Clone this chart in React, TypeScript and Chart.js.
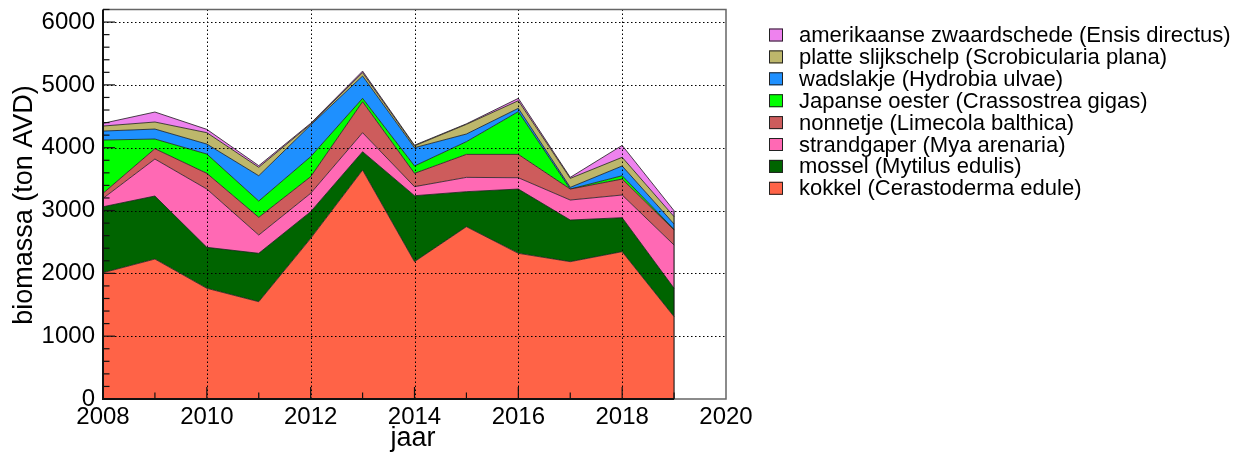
import React, { useEffect, useRef } from "react";
import { Chart, registerables } from "chart.js";

Chart.register(...registerables);

const FONT = '"Liberation Sans", Arial, Helvetica, sans-serif';

const years = [2008, 2009, 2010, 2011, 2012, 2013, 2014, 2015, 2016, 2017, 2018, 2019];

// biomass per species (ton AVD), bottom of stack first
const kokkel = [2010, 2228, 1762, 1549, 2557, 3645, 2186, 2743, 2319, 2186, 2345, 1310];
const mossel = [1050, 1003, 652, 770, 425, 291, 1050, 557, 1023, 663, 541, 452];
const strandgaper = [134, 589, 928, 291, 292, 303, 144, 228, 180, 318, 361, 689];
const nonnetje = [80, 164, 250, 282, 264, 493, 212, 366, 372, 175, 254, 239];
const japanseOester = [848, 154, 307, 259, 319, 54, 117, 202, 680, 0, 53, 10];
const wadslakje = [143, 159, 159, 403, 503, 355, 291, 122, 53, 27, 155, 85];
const platteSlijkschelp = [80, 112, 181, 134, 15, 54, 30, 154, 121, 143, 138, 117];
const amerikaanseZwaardschede = [43, 159, 53, 26, 13, 25, 10, 8, 38, 16, 190, 95];

const seriesLabels = [
  "kokkel (Cerastoderma edule)",
  "mossel (Mytilus edulis)",
  "strandgaper (Mya arenaria)",
  "nonnetje (Limecola balthica)",
  "Japanse oester (Crassostrea gigas)",
  "wadslakje (Hydrobia ulvae)",
  "platte slijkschelp (Scrobicularia plana)",
  "amerikaanse zwaardschede (Ensis directus)",
];
const seriesValues = [
  kokkel,
  mossel,
  strandgaper,
  nonnetje,
  japanseOester,
  wadslakje,
  platteSlijkschelp,
  amerikaanseZwaardschede,
];
const seriesColors = [
  "#FF6347",
  "#006400",
  "#FF69B4",
  "#CD5C5C",
  "#00FF00",
  "#1E90FF",
  "#BDB76B",
  "#EE82EE",
];

const xTickValues = [2008, 2010, 2012, 2014, 2016, 2018, 2020];
const yTickValues = [0, 1000, 2000, 3000, 4000, 5000, 6000];
const xTitle = "jaar";
const yTitle = "biomassa (ton AVD)";
const xMin = 2008;
const xMax = 2020;
const yMin = 0;
const yMax = 6200;

const decor = {
  id: "decor",
  afterDatasetsDraw(chart: any) {
    const ctx = chart.ctx as CanvasRenderingContext2D;
    const { left, right, top, bottom } = chart.chartArea;
    const xs = chart.scales.x;
    const ys = chart.scales.y;
    ctx.save();

    // dotted grid
    ctx.strokeStyle = "#000";
    ctx.lineWidth = 1;
    ctx.setLineDash([1.5, 2.5]);
    for (const v of yTickValues.slice(1)) {
      const y = Math.round(ys.getPixelForValue(v)) + 0.5;
      ctx.beginPath();
      ctx.moveTo(left, y);
      ctx.lineTo(right, y);
      ctx.stroke();
    }
    for (const v of xTickValues.slice(1, -1)) {
      const x = Math.round(xs.getPixelForValue(v)) + 0.5;
      ctx.beginPath();
      ctx.moveTo(x, top);
      ctx.lineTo(x, bottom);
      ctx.stroke();
    }
    ctx.setLineDash([]);

    // right edge of the stacked area
    const lastYear = years[years.length - 1];
    const total = seriesValues.reduce((s, arr) => s + arr[arr.length - 1], 0);
    const xe = xs.getPixelForValue(lastYear);
    ctx.strokeStyle = "rgba(20,20,20,0.9)";
    ctx.lineWidth = 1.2;
    ctx.beginPath();
    ctx.moveTo(xe, bottom);
    ctx.lineTo(xe, ys.getPixelForValue(total));
    ctx.stroke();

    // frame: top & right grey
    ctx.strokeStyle = "#666";
    ctx.lineWidth = 1.5;
    ctx.beginPath();
    ctx.moveTo(left, top);
    ctx.lineTo(right, top);
    ctx.lineTo(right, bottom);
    ctx.lineTo(left, bottom);
    ctx.stroke();

    // left axis & bottom axis under data in black
    ctx.strokeStyle = "#111";
    ctx.lineWidth = 2;
    ctx.beginPath();
    ctx.moveTo(left, top);
    ctx.lineTo(left, bottom);
    ctx.lineTo(xe, bottom);
    ctx.stroke();

    // ticks (major with minor subdivisions)
    ctx.lineWidth = 1.2;
    ctx.strokeStyle = "#111";
    for (let v = yMin; v <= yMax; v += 200) {
      const y = ys.getPixelForValue(v);
      const len = v % 1000 === 0 ? 12 : 6.5;
      ctx.beginPath();
      ctx.moveTo(left, y);
      ctx.lineTo(left + len, y);
      ctx.stroke();
    }
    for (let v = xMin + 1; v < xMax; v += 1) {
      const x = xs.getPixelForValue(v);
      const len = v % 2 === 0 ? 12 : 6.5;
      ctx.beginPath();
      ctx.moveTo(x, bottom);
      ctx.lineTo(x, bottom - len);
      ctx.stroke();
    }

    ctx.restore();
  },
  afterDraw(chart: any) {
    const ctx = chart.ctx as CanvasRenderingContext2D;
    ctx.save();
    ctx.fillStyle = "#000";

    // axis titles
    ctx.font = `27px ${FONT}`;
    ctx.textAlign = "center";
    ctx.textBaseline = "alphabetic";
    ctx.fillText(xTitle, 413, 446);
    ctx.save();
    ctx.translate(32, 205);
    ctx.rotate(-Math.PI / 2);
    ctx.fillText(yTitle, 0, 0);
    ctx.restore();

    // legend (top entry first)
    ctx.font = `22px ${FONT}`;
    ctx.textAlign = "left";
    ctx.textBaseline = "middle";
    const n = seriesLabels.length;
    for (let k = 0; k < n; k++) {
      const i = n - 1 - k;
      const cy = 35 + k * 21.9;
      ctx.fillStyle = seriesColors[i];
      ctx.fillRect(769, cy - 6.5, 14, 13);
      ctx.strokeStyle = "#222";
      ctx.lineWidth = 1;
      ctx.strokeRect(769.5, cy - 6, 13, 12);
      ctx.fillStyle = "#000";
      ctx.fillText(seriesLabels[i], 799, cy + 1);
    }
    ctx.restore();
  },
};

export default function App() {
  const ref = useRef<HTMLCanvasElement>(null);

  useEffect(() => {
    if (!ref.current) return;
    const datasets = seriesValues.map((vals, i) => ({
      label: seriesLabels[i],
      data: years.map((yr, j) => ({ x: yr, y: vals[j] })),
      backgroundColor: seriesColors[i],
      borderColor: "rgba(30,30,30,0.8)",
      borderWidth: 1,
      pointRadius: 0,
      pointHoverRadius: 0,
      fill: i === 0 ? "origin" : "-1",
      tension: 0,
    }));

    const chart = new Chart(ref.current, {
      type: "line",
      data: { datasets } as any,
      options: {
        responsive: false,
        animation: false,
        events: [],
        layout: { padding: { top: 9.5, right: 514, left: 0, bottom: 0 } },
        plugins: {
          legend: { display: false },
          tooltip: { enabled: false },
        },
        scales: {
          x: {
            type: "linear",
            min: xMin,
            max: xMax,
            grid: { display: false, drawTicks: false },
            border: { display: false },
            afterBuildTicks: (s: any) => {
              s.ticks = xTickValues.map((v) => ({ value: v }));
            },
            ticks: {
              padding: 4,
              autoSkip: false,
              maxRotation: 0,
              color: "#000",
              font: { family: FONT, size: 24 },
              callback: (v: any) => String(v),
            },
            afterFit: (s: any) => {
              s.height = 60;
              s.paddingLeft = 0;
              s.paddingRight = 0;
            },
          },
          y: {
            type: "linear",
            stacked: true,
            min: yMin,
            max: yMax,
            grid: { display: false, drawTicks: false },
            border: { display: false },
            afterBuildTicks: (s: any) => {
              s.ticks = yTickValues.map((v) => ({ value: v }));
            },
            ticks: {
              autoSkip: false,
              padding: 8,
              color: "#000",
              font: { family: FONT, size: 24 },
              callback: (v: any) => String(v),
            },
            afterFit: (s: any) => {
              s.width = 103;
              s.paddingTop = 0;
              s.paddingBottom = 0;
            },
          },
        },
      } as any,
      plugins: [decor],
    });
    return () => chart.destroy();
  }, []);

  return (
    <div style={{ position: "fixed", left: 0, top: 0, width: 1240, height: 459, background: "#fff" }}>
      <canvas ref={ref} width={1240} height={459} style={{ display: "block", width: 1240, height: 459 }} />
    </div>
  );
}
